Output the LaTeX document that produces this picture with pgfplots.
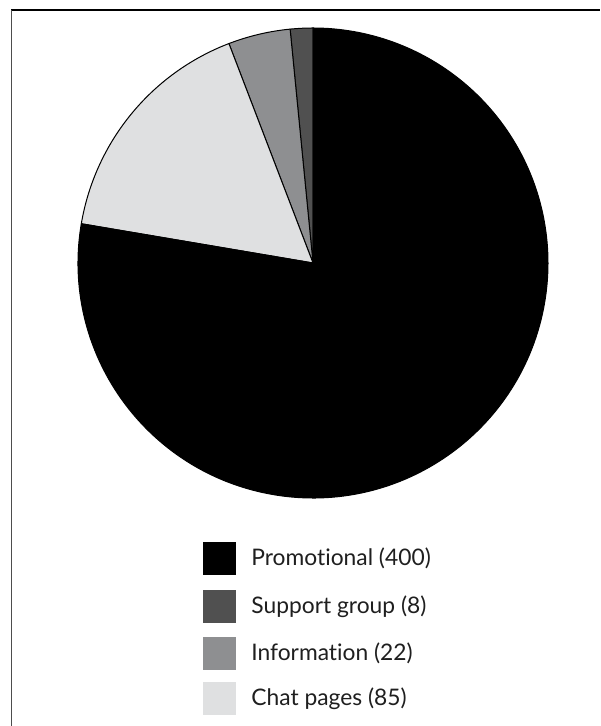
\documentclass[border=0pt]{standalone}
\usepackage{pgfplots}
\usepackage{pgfplotstable}
\pgfplotsset{compat=1.18}
\usepackage{fontspec}
\setmainfont[Ligatures={NoCommon,NoRare}]{Lato}
\definecolor{promo}{HTML}{000000}
\definecolor{support}{HTML}{505050}
\definecolor{info}{HTML}{8E8F91}
\definecolor{chat}{HTML}{DFE0E1}
\definecolor{framegray}{HTML}{4D4D4D}

\pgfplotstableread[col sep=comma]{
label,value,color,ytop
Promotional,400,promo,542
Support group,8,support,590
Information,22,info,637
Chat pages,85,chat,682
}\piedata

\begin{document}
\begin{tikzpicture}
\path[use as bounding box] (0,0) rectangle (300pt,363pt);
% total of the values
\gdef\total{0}
\pgfplotstablegetrowsof{\piedata}
\pgfmathtruncatemacro\nrows{\pgfplotsretval-1}
\foreach \i in {0,...,\nrows}{%
  \pgfplotstablegetelem{\i}{value}\of\piedata
  \pgfmathsetmacro\tmp{\total+\pgfplotsretval}%
  \xdef\total{\tmp}%
}
\begin{axis}[
  x=0.5pt, y=0.5pt, scale only axis,
  xmin=0, xmax=600, ymin=0, ymax=726,
  hide axis, clip=false,
  at={(0,0)}, anchor=south west,
]
% frame (top and left edges)
\draw[black, line width=0.65pt] (axis cs:11,716) -- (axis cs:600,716);
\draw[framegray, line width=0.75pt] (axis cs:11.5,716) -- (axis cs:11.5,0);
% pie wedges: Promotional clockwise from the top, the others counter-clockwise from the top
\def\startangle{90}
\pgfplotsforeachungrouped \i in {1,2,3,0}{%
  \pgfplotstablegetelem{\i}{value}\of\piedata
  \pgfmathsetmacro\sweep{360*(\pgfplotsretval/\total)}%
  \pgfmathsetmacro\endangle{\startangle+\sweep}%
  \pgfplotstablegetelem{\i}{color}\of\piedata
  \edef\temp{\noexpand\filldraw[fill=\pgfplotsretval, draw=black, line width=0.5pt, line join=round]
    (axis cs:313,463) -- ++(\startangle:117.5pt)
    arc[start angle=\startangle, end angle=\endangle, radius=117.5pt] -- cycle;}%
  \temp
  \global\let\startangle\endangle
}
% legend
\pgfplotsforeachungrouped \i in {0,...,3}{%
  \pgfplotstablegetelem{\i}{ytop}\of\piedata
  \pgfmathsetmacro\yt{726-\pgfplotsretval}%
  \pgfmathsetmacro\yb{\yt-33}%
  \pgfmathsetmacro\ym{\yt-16.5}%
  \pgfplotstablegetelem{\i}{color}\of\piedata
  \edef\temp{\noexpand\fill[\pgfplotsretval] (axis cs:203,\yb) rectangle (axis cs:236,\yt);}%
  \temp
  \pgfplotstablegetelem{\i}{label}\of\piedata
  \let\lab\pgfplotsretval
  \pgfplotstablegetelem{\i}{value}\of\piedata
  \edef\temp{\noexpand\node[anchor=west, inner sep=0pt, font=\noexpand\fontsize{11.4}{13}\noexpand\selectfont, text=black!88]
    at (axis cs:251,\ym) {\lab\space(\pgfplotsretval)};}%
  \temp
}
\end{axis}
\end{tikzpicture}
\end{document}
